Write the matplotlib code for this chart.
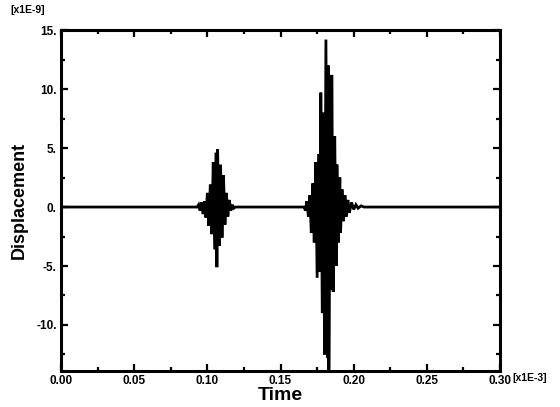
import matplotlib.pyplot as plt
import numpy as np
from matplotlib.ticker import MultipleLocator

# Displacement trace (time in 1E-3 s, displacement in 1E-9)
time_pts = [
    0.000, 0.093,
    # first arrival
    0.0940, 0.0950, 0.0960, 0.0970, 0.0980, 0.0990, 0.1000, 0.1010,
    0.1020, 0.1030, 0.1040, 0.1050, 0.1060, 0.1065, 0.1070, 0.1080,
    0.1090, 0.1100, 0.1110, 0.1120, 0.1130, 0.1140, 0.1150, 0.1160,
    0.1170, 0.1180, 0.1190,
    0.166,
    # second arrival
    0.1670, 0.1680, 0.1690, 0.1700, 0.1710, 0.1720, 0.1730, 0.1740,
    0.1750, 0.1760, 0.1770, 0.1775, 0.1785, 0.1795, 0.1800, 0.1810,
    0.1820, 0.1825, 0.1830, 0.1840, 0.1845, 0.1850, 0.1860, 0.1870,
    0.1880, 0.1885, 0.1895, 0.1905, 0.1910, 0.1920, 0.1930, 0.1940,
    0.1950, 0.1960, 0.1970, 0.1985, 0.2000, 0.2015, 0.2030, 0.2050,
    0.2070,
    0.300,
]
disp_pts = [
    0.0, 0.0,
    0.2, -0.3, 0.4, -0.6, 0.5, -0.9, 1.2, -1.6,
    1.9, -2.3, 3.8, -3.6, 4.6, -5.1, 4.9, -3.3,
    3.6, -2.6, 2.7, -1.5, 1.2, -0.8, 0.6, -0.3,
    0.2, -0.1, 0.0,
    0.0,
    -0.3, 0.5, -0.8, 1.0, -2.2, 2.0, -3.0, 3.8,
    -6.0, 4.5, -5.5, 9.7, -9.0, 8.0, -12.5, 14.2,
    -12.8, 12.0, -13.8, 5.0, -7.0, 11.2, -7.2, 6.0,
    -5.0, 3.6, -3.0, 2.5, -2.2, 1.5, -1.2, 1.0,
    -0.8, 0.6, -0.5, 0.4, -0.2, 0.2, -0.1, 0.1,
    0.0,
    0.0,
]

x_ticks = [0.00, 0.05, 0.10, 0.15, 0.20, 0.25, 0.30]
x_ticklabels = ["0.00", "0.05", "0.10", "0.15", "0.20", "0.25", "0.30"]
y_ticks = [-10, -5, 0, 5, 10, 15]
y_ticklabels = ["-10.", "-5.", "0.", "5.", "10.", "15."]

narrow = ["Liberation Sans Narrow", "Liberation Sans", "DejaVu Sans"]

fig = plt.figure(figsize=(5.6, 4.07), dpi=100)
ax = fig.add_axes([0.109, 0.0885, 0.784, 0.8375])

ax.plot(time_pts, disp_pts, color="black", linewidth=2.0, solid_joinstyle="miter")

ax.set_xlim(0.0, 0.30)
ax.set_ylim(-13.9, 15.0)

ax.set_xticks(x_ticks)
ax.set_xticklabels(x_ticklabels)
ax.set_yticks(y_ticks)
ax.set_yticklabels(y_ticklabels)
ax.xaxis.set_minor_locator(MultipleLocator(0.025))
ax.yaxis.set_minor_locator(MultipleLocator(2.5))

ax.tick_params(which="both", direction="in", top=True, right=True,
               width=1.6, color="black")
ax.tick_params(which="major", length=5, pad=3)
ax.tick_params(which="minor", length=3)
for lab in ax.get_xticklabels() + ax.get_yticklabels():
    lab.set_family(narrow)
    lab.set_fontweight("bold")
    lab.set_fontsize(8.5)

for sp in ax.spines.values():
    sp.set_linewidth(2.2)

ax.set_xlabel("Time", family=narrow, fontweight="bold", fontsize=14, labelpad=0)
ax.set_ylabel("Displacement", family=narrow, fontweight="bold", fontsize=13, labelpad=6)

fig.text(0.018, 0.975, "[x1E-9]", family=narrow, fontweight="bold", fontsize=7.5,
         ha="left", va="center")
fig.text(0.915, 0.072, "[x1E-3]", family=narrow, fontweight="bold", fontsize=7.5,
         ha="left", va="center")

fig.savefig("out.png", dpi=100)
